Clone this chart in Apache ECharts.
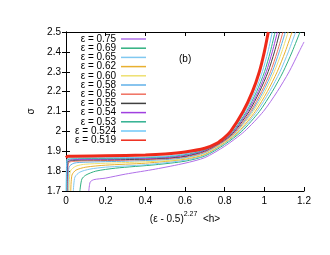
<!DOCTYPE html>
<html><head><meta charset="utf-8">
<script src="https://cdn.jsdelivr.net/npm/echarts@6/dist/echarts.min.js"></script>
<style>html,body{margin:0;padding:0;background:#fff}#c{width:330px;height:255px}</style>
</head><body><div id="c"></div>
<script>
// ---- data ----
const epsLabels = ['0.75','0.69','0.65','0.62','0.60','0.58','0.56','0.55','0.54','0.53','0.524','0.519'];
const xTicks = [0, 0.2, 0.4, 0.6, 0.8, 1, 1.2];
const yTicks = [1.7, 1.8, 1.9, 2, 2.1, 2.2, 2.3, 2.4, 2.5];
const e075 = [[0.115,1.70],[0.122,1.745],[0.14,1.757],[0.2,1.765],[0.3,1.785],[0.45,1.81],[0.6,1.84],[0.7,1.868],[0.8,1.925],[0.9,2.0],[0.995,2.1],[1.065,2.2],[1.125,2.3],[1.175,2.4],[1.2,2.45]];
const e069 = [[0.07,1.70],[0.08,1.76],[0.1,1.78],[0.15,1.80],[0.25,1.815],[0.45,1.832],[0.6,1.85],[0.7,1.876],[0.8,1.934],[0.886,2.0],[0.975,2.1],[1.04,2.2],[1.095,2.3],[1.14,2.4],[1.18,2.5]];
const e065 = [[0.037,1.70],[0.045,1.77],[0.07,1.795],[0.12,1.81],[0.2,1.82],[0.4,1.832],[0.6,1.855],[0.7,1.88],[0.8,1.939],[0.878,2.0],[0.963,2.1],[1.026,2.2],[1.079,2.3],[1.121,2.4],[1.158,2.5]];
const e062 = [[0.024,1.70],[0.03,1.78],[0.05,1.805],[0.1,1.82],[0.2,1.83],[0.4,1.84],[0.6,1.86],[0.7,1.884],[0.8,1.943],[0.872,2.0],[0.954,2.1],[1.015,2.2],[1.065,2.3],[1.105,2.4],[1.14,2.5]];
const e060 = [[0.015,1.70],[0.022,1.80],[0.05,1.825],[0.1,1.835],[0.3,1.843],[0.5,1.852],[0.6,1.864],[0.7,1.889],[0.8,1.947],[0.865,2.0],[0.944,2.1],[1.003,2.2],[1.05,2.3],[1.088,2.4],[1.12,2.5]];
const e058 = [[0.01,1.70],[0.015,1.82],[0.04,1.84],[0.1,1.845],[0.3,1.85],[0.5,1.858],[0.6,1.868],[0.7,1.893],[0.8,1.951],[0.86,2.0],[0.937,2.1],[0.994,2.2],[1.04,2.3],[1.075,2.4],[1.106,2.5]];
const e056 = [[0.006,1.70],[0.012,1.84],[0.05,1.85],[0.3,1.855],[0.5,1.862],[0.6,1.872],[0.7,1.897],[0.8,1.953],[0.856,2.0],[0.931,2.1],[0.986,2.2],[1.031,2.3],[1.065,2.4],[1.094,2.5]];
const e055 = [[0.004,1.70],[0.01,1.845],[0.05,1.855],[0.3,1.858],[0.5,1.865],[0.6,1.875],[0.7,1.901],[0.8,1.957],[0.85,2.0],[0.923,2.1],[0.976,2.2],[1.019,2.3],[1.051,2.4],[1.078,2.5]];
const e054 = [[0.003,1.70],[0.008,1.85],[0.04,1.858],[0.3,1.862],[0.5,1.868],[0.6,1.879],[0.7,1.904],[0.8,1.96],[0.846,2.0],[0.916,2.1],[0.969,2.2],[1.01,2.3],[1.04,2.4],[1.066,2.5]];
const e053 = [[0.002,1.70],[0.006,1.855],[0.03,1.862],[0.3,1.865],[0.5,1.872],[0.6,1.883],[0.7,1.907],[0.8,1.962],[0.842,2.0],[0.91,2.1],[0.961,2.2],[1.001,2.3],[1.03,2.4],[1.054,2.5]];
const e0524 = [[0.001,1.70],[0.004,1.86],[0.02,1.866],[0.3,1.868],[0.5,1.875],[0.6,1.887],[0.7,1.911],[0.8,1.965],[0.837,2.0],[0.903,2.1],[0.953,2.2],[0.99,2.3],[1.018,2.4],[1.04,2.5]];
const e0519 = [[0.0,1.868],[0.01,1.875],[0.2,1.877],[0.4,1.881],[0.5,1.886],[0.6,1.896],[0.7,1.915],[0.76,1.94],[0.8,1.97],[0.83,2.0],[0.893,2.1],[0.94,2.2],[0.975,2.3],[1.0,2.4],[1.02,2.5]];
const seriesData = [e075,e069,e065,e062,e060,e058,e056,e055,e054,e053,e0524,e0519];

// ---- styles ----
const colors = ['#b070e8','#30b080','#80c8f0','#e8b030','#eee070','#60b0e8','#f07060','#404040','#a040e0','#30b090','#70c8f8','#ee2a1a'];
const widths = [1,1,1,1,1,1,1,1,1,1,1,3];
const FONT = 'Liberation Sans';

const chart = echarts.init(document.getElementById('c'), null, {renderer:'canvas'});
const axisCommon = {
  axisLine:{show:true,lineStyle:{color:'#000',width:1}},
  axisTick:{show:true,inside:true,length:4,lineStyle:{color:'#000'}},
  splitLine:{show:false}
};
chart.setOption({
  animation:false,
  grid:{left:66,right:26,top:32,bottom:64},
  title:{text:'(b)',left:174,top:49,textStyle:{fontFamily:FONT,fontSize:10,fontWeight:'normal',color:'#000'}},
  legend:{
    orient:'vertical', right:179, top:29, align:'right',
    icon:'rect', itemWidth:25, itemHeight:1.5, itemGap:-0.8,
    textStyle:{fontFamily:FONT,fontSize:10,color:'#000',lineHeight:9.1,padding:0},
    data: epsLabels.map(e=>'ε = '+e)
  },
  xAxis:[
    Object.assign({type:'value',min:0,max:1.2,interval:0.2,position:'bottom',
      name:'{a|(ε - 0.5)}{s|2.27}{a|  <h>}', nameLocation:'middle', nameGap:18,
      nameTextStyle:{rich:{a:{fontFamily:FONT,fontSize:10,color:'#000',verticalAlign:'bottom'},s:{fontFamily:FONT,fontSize:7,color:'#000',verticalAlign:'top',padding:[0,0,6,0]}}},
      axisLabel:{fontFamily:FONT,fontSize:10,color:'#000',margin:5,formatter:v=>String(+v.toFixed(2))}},axisCommon),
    Object.assign({type:'value',min:0,max:1.2,interval:0.2,position:'top',axisLabel:{show:false}},axisCommon)
  ],
  yAxis:[
    Object.assign({type:'value',min:1.7,max:2.5,interval:0.1,position:'left',
      name:'σ', nameLocation:'middle', nameGap:30, nameRotate:90,
      nameTextStyle:{fontFamily:FONT,fontSize:10,color:'#000'},
      axisLabel:{fontFamily:FONT,fontSize:10,color:'#000',margin:5,formatter:v=>String(+v.toFixed(2))}},axisCommon),
    Object.assign({type:'value',min:1.7,max:2.5,interval:0.1,position:'right',axisLabel:{show:false}},axisCommon)
  ],
  series: seriesData.map((d,i)=>({
    name:'ε = '+epsLabels[i], type:'line', data:d, showSymbol:false, symbol:'none',
    smooth:0.25, clip:true,
    lineStyle:{color:colors[i],width:widths[i]}, itemStyle:{color:colors[i]}
  }))
});
</script></body></html>
